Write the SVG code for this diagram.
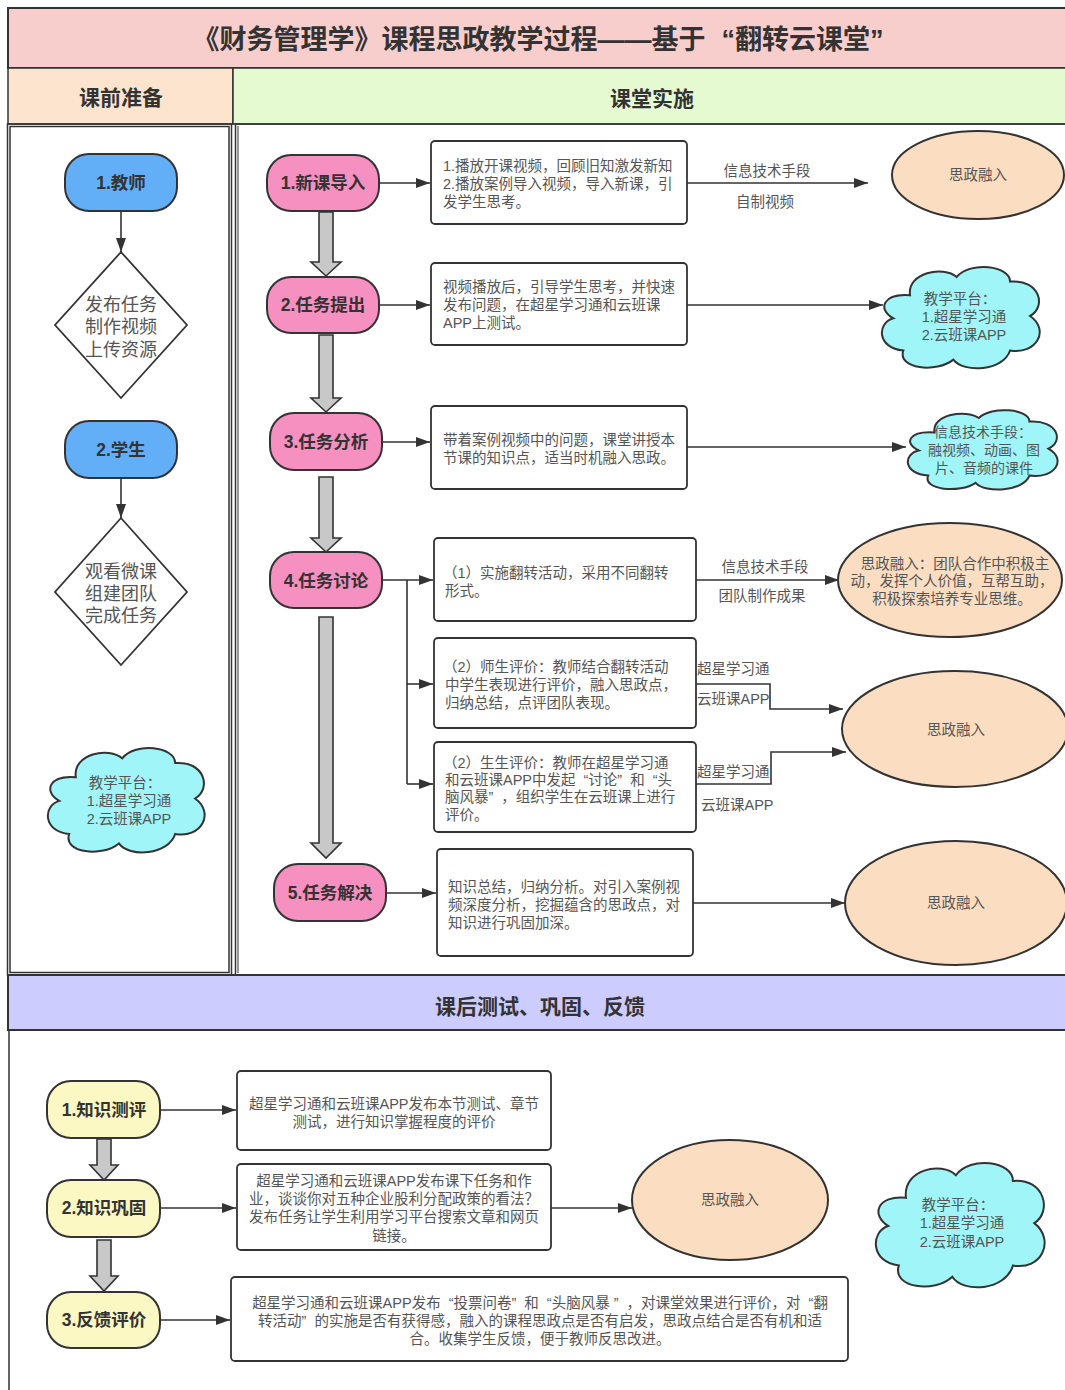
<svg xmlns="http://www.w3.org/2000/svg" width="1065" height="1390" viewBox="0 0 1065 1390">
<style>
text{font-family:"Liberation Sans","Noto Sans CJK SC",sans-serif;dominant-baseline:central}
.title{font-size:27px;font-weight:bold;fill:#333;text-anchor:middle}
.head{font-size:21px;font-weight:bold;fill:#333;text-anchor:middle}
.nl{font-size:17.5px;font-weight:bold;fill:#333;text-anchor:middle}
.body{font-size:14.5px;fill:#555}
.mid{text-anchor:middle}
.dia{font-size:18px;fill:#555;text-anchor:middle}
.frame{fill:none;stroke:#333;stroke-width:1.5}
.blue{fill:#62AEF7;stroke:#333;stroke-width:2}
.pink{fill:#F590C0;stroke:#333;stroke-width:2}
.yel{fill:#FBF8C3;stroke:#333;stroke-width:2}
.box{fill:#fff;stroke:#333;stroke-width:1.8}
.ell{fill:#FBDDC1;stroke:#333;stroke-width:2}
.cloud{fill:#9FF5F7;stroke:#333;stroke-width:2}
.dm{fill:#fff;stroke:#333;stroke-width:1.8}
.ln{fill:none;stroke:#333;stroke-width:1.6;marker-end:url(#ah)}
.pl{fill:none;stroke:#333;stroke-width:1.6}
.blk{fill:#C8C8C8;stroke:#333;stroke-width:1.6}
</style>
<defs>
<marker id="ah" markerUnits="userSpaceOnUse" markerWidth="14" markerHeight="10" refX="14" refY="5" orient="auto"><path d="M0,0 L14,5 L0,10 z" fill="#333"/></marker>
</defs>
<rect width="1065" height="1390" fill="#fff"/>

<g id="frames">
<rect x="8" y="8" width="1070" height="60" fill="#F8CECC" stroke="#333" stroke-width="2"/>
<text class="title" x="538" y="40">《财务管理学》课程思政教学过程——基于<tspan dx="16">“</tspan>翻转云课堂”</text>
<rect x="8" y="68" width="225" height="56" fill="#FCE4CF" stroke="#333" stroke-width="1.5"/>
<text class="head" x="121" y="97">课前准备</text>
<rect x="233" y="68" width="845" height="56" fill="#E6FAD2" stroke="#333" stroke-width="1.5"/>
<text class="head" x="652" y="98">课堂实施</text>
<rect class="frame" x="7.5" y="124" width="224" height="851"/>
<rect class="frame" x="10" y="126.5" width="219" height="846" stroke-width="1"/>
<rect class="frame" x="235.5" y="124" width="840" height="851"/>
<line x1="238" y1="126" x2="238" y2="973" stroke="#333" stroke-width="1"/>
<rect x="8" y="975" width="1070" height="55" fill="#CCCCFF" stroke="#333" stroke-width="2"/>
<text class="head" x="540" y="1006">课后测试、巩固、反馈</text>
<rect class="frame" x="9" y="1030" width="1070" height="370"/>
</g>

<g id="connectors">
<line class="ln" x1="121" y1="211" x2="121" y2="252"/>
<line class="ln" x1="121" y1="478" x2="121" y2="518"/>
<polygon class="blk" points="319,212 333,212 333,262 341,262 326,276 311,262 319,262"/>
<polygon class="blk" points="319,335 333,335 333,398 341,398 326,412 311,398 319,398"/>
<polygon class="blk" points="319,477 333,477 333,538 341,538 326,552 311,538 319,538"/>
<polygon class="blk" points="319,617 333,617 333,843 341,843 326,858 311,843 319,843"/>
<polygon class="blk" points="97,1139 111,1139 111,1165 118,1165 104,1180 90,1165 97,1165"/>
<polygon class="blk" points="97,1240 111,1240 111,1276 118,1276 104,1291 90,1276 97,1276"/>
<line class="ln" x1="379" y1="183" x2="430" y2="183"/>
<line class="ln" x1="379" y1="305" x2="430" y2="305"/>
<line class="ln" x1="382" y1="442" x2="430" y2="442"/>
<line class="ln" x1="382" y1="580" x2="433" y2="580"/>
<polyline class="pl" points="407,580 407,784"/>
<line class="ln" x1="407" y1="684" x2="433" y2="684"/>
<line class="ln" x1="407" y1="784" x2="433" y2="784"/>
<line class="ln" x1="386" y1="893" x2="436" y2="893"/>
<line class="ln" x1="687" y1="183" x2="868" y2="183"/>
<line class="ln" x1="687" y1="305" x2="883" y2="305"/>
<line class="ln" x1="687" y1="447" x2="906" y2="447"/>
<line class="ln" x1="696" y1="580" x2="839" y2="580"/>
<polyline class="ln" points="696,684 770,684 770,709 843,709"/>
<polyline class="ln" points="696,784 771,784 771,752 846,752"/>
<line class="ln" x1="693" y1="903" x2="845" y2="903"/>
<line class="ln" x1="160" y1="1110" x2="236" y2="1110"/>
<line class="ln" x1="160" y1="1208" x2="236" y2="1208"/>
<line class="ln" x1="160" y1="1320" x2="230" y2="1320"/>
<line class="ln" x1="551" y1="1208" x2="632" y2="1208"/>
<text class="body mid" x="767" y="171">信息技术手段</text>
<text class="body mid" x="765" y="202">自制视频</text>
<text class="body mid" x="765" y="567">信息技术手段</text>
<text class="body mid" x="762" y="596">团队制作成果</text>
<text class="body" x="697" y="669">超星学习通</text>
<text class="body" x="697" y="699">云班课APP</text>
<text class="body" x="697" y="772">超星学习通</text>
<text class="body" x="701" y="805">云班课APP</text>
</g>

<g id="n-teacher"><rect class="blue" x="65" y="154" width="112" height="57" rx="24"/><text class="nl" x="121" y="183">1.教师</text></g>
<g id="n-d1"><polygon class="dm" points="121,252 187,325 121,398 55,325"/>
<text class="dia" x="121" y="305"><tspan x="121" y="305">发布任务</tspan><tspan x="121" y="327">制作视频</tspan><tspan x="121" y="350">上传资源</tspan></text></g>
<g id="n-student"><rect class="blue" x="65" y="421" width="112" height="57" rx="24"/><text class="nl" x="121" y="450">2.学生</text></g>
<g id="n-d2"><polygon class="dm" points="121,518 187,592 121,665 55,592"/>
<text class="dia" x="121" y="572"><tspan x="121" y="572">观看微课</tspan><tspan x="121" y="594">组建团队</tspan><tspan x="121" y="616">完成任务</tspan></text></g>
<g id="n-cloud1"><path class="cloud" vector-effect="non-scaling-stroke" transform="translate(42.7,739.4) scale(1.656,1.182)" d="M20,32 C18,12 40,6 48,16 C56,2 80,6 80,20 C98,18 102,42 92,50 C104,62 96,84 80,80 C76,98 52,100 46,88 C36,100 12,96 16,80 C0,78 0,56 10,52 C0,44 4,30 20,32 Z"/>
<text class="body mid" x="127" y="783"><tspan x="125" y="783">教学平台：</tspan><tspan x="129" y="801">1.超星学习通</tspan><tspan x="129" y="819">2.云班课APP</tspan></text></g>

<g id="n-s1"><rect class="pink" x="267" y="155" width="112" height="56" rx="24"/><text class="nl" x="323" y="183">1.新课导入</text></g>
<g id="n-s2"><rect class="pink" x="267" y="277" width="112" height="56" rx="24"/><text class="nl" x="323" y="305">2.任务提出</text></g>
<g id="n-s3"><rect class="pink" x="270" y="413" width="112" height="57" rx="24"/><text class="nl" x="326" y="442">3.任务分析</text></g>
<g id="n-s4"><rect class="pink" x="270" y="552" width="112" height="56" rx="24"/><text class="nl" x="326" y="581">4.任务讨论</text></g>
<g id="n-s5"><rect class="pink" x="274" y="864" width="112" height="57" rx="24"/><text class="nl" x="330" y="893">5.任务解决</text></g>

<g id="n-b1"><rect class="box" x="431" y="141" width="256" height="83" rx="4"/>
<text class="body" x="443" y="166"><tspan x="443" y="166">1.播放开课视频，回顾旧知激发新知</tspan><tspan x="443" y="184">2.播放案例导入视频，导入新课，引</tspan><tspan x="443" y="202">发学生思考。</tspan></text></g>
<g id="n-b2"><rect class="box" x="431" y="263" width="256" height="82" rx="4"/>
<text class="body" x="443" y="287"><tspan x="443" y="287">视频播放后，引导学生思考，并快速</tspan><tspan x="443" y="305">发布问题，在超星学习通和云班课</tspan><tspan x="443" y="323">APP上测试。</tspan></text></g>
<g id="n-b3"><rect class="box" x="431" y="406" width="256" height="83" rx="4"/>
<text class="body" x="443" y="440"><tspan x="443" y="440">带着案例视频中的问题，课堂讲授本</tspan><tspan x="443" y="458">节课的知识点，适当时机融入思政。</tspan></text></g>
<g id="n-b4a"><rect class="box" x="434" y="538" width="262" height="83" rx="4"/>
<text class="body" x="443" y="573"><tspan x="443" y="573">（1）实施翻转活动，采用不同翻转</tspan><tspan x="445" y="591">形式。</tspan></text></g>
<g id="n-b4b"><rect class="box" x="434" y="638" width="262" height="90" rx="4"/>
<text class="body" x="443" y="667"><tspan x="443" y="667">（2）师生评价：教师结合翻转活动</tspan><tspan x="445" y="685">中学生表现进行评价，融入思政点，</tspan><tspan x="445" y="703">归纳总结，点评团队表现。</tspan></text></g>
<g id="n-b4c"><rect class="box" x="434" y="742" width="262" height="90" rx="4"/>
<text class="body" x="443" y="763"><tspan x="443" y="763">（2）生生评价：教师在超星学习通</tspan><tspan x="445" y="780">和云班课APP中发起<tspan dx="8">“</tspan>讨论”<tspan dx="8">和</tspan><tspan dx="8">“</tspan>头</tspan><tspan x="445" y="797">脑风暴”<tspan dx="8">，</tspan>组织学生在云班课上进行</tspan><tspan x="445" y="815">评价。</tspan></text></g>
<g id="n-b5"><rect class="box" x="437" y="849" width="256" height="107" rx="4"/>
<text class="body" x="448" y="887"><tspan x="448" y="887">知识总结，归纳分析。对引入案例视</tspan><tspan x="448" y="905">频深度分析，挖掘蕴含的思政点，对</tspan><tspan x="448" y="923">知识进行巩固加深。</tspan></text></g>

<g id="n-e1"><ellipse class="ell" cx="978" cy="175" rx="86" ry="44"/><text class="body mid" x="978" y="175">思政融入</text></g>
<g id="n-cloud2"><path class="cloud" vector-effect="non-scaling-stroke" transform="translate(876.7,258.6) scale(1.667,1.148)" d="M20,32 C18,12 40,6 48,16 C56,2 80,6 80,20 C98,18 102,42 92,50 C104,62 96,84 80,80 C76,98 52,100 46,88 C36,100 12,96 16,80 C0,78 0,56 10,52 C0,44 4,30 20,32 Z"/>
<text class="body mid" x="962" y="299"><tspan x="960" y="299">教学平台：</tspan><tspan x="964" y="317">1.超星学习通</tspan><tspan x="964" y="335">2.云班课APP</tspan></text></g>
<g id="n-cloud3"><path class="cloud" vector-effect="non-scaling-stroke" transform="translate(902.9,403.6) scale(1.582,0.9)" d="M20,32 C18,12 40,6 48,16 C56,2 80,6 80,20 C98,18 102,42 92,50 C104,62 96,84 80,80 C76,98 52,100 46,88 C36,100 12,96 16,80 C0,78 0,56 10,52 C0,44 4,30 20,32 Z"/>
<text class="body mid" x="984" y="432" style="font-size:14px"><tspan x="983" y="432">信息技术手段：</tspan><tspan x="984" y="450">融视频、动画、图</tspan><tspan x="984" y="468">片、音频的课件</tspan></text></g>
<g id="n-e2"><ellipse class="ell" cx="950" cy="580" rx="112" ry="57"/>
<text class="body mid" x="953" y="564"><tspan x="955" y="564">思政融入：团队合作中积极主</tspan><tspan x="952" y="581">动，发挥个人价值，互帮互助，</tspan><tspan x="952" y="599">积极探索培养专业思维。</tspan></text></g>
<g id="n-e3"><ellipse class="ell" cx="955" cy="729" rx="113" ry="58"/><text class="body mid" x="956" y="730">思政融入</text></g>
<g id="n-e4"><ellipse class="ell" cx="956" cy="903" rx="111" ry="62"/><text class="body mid" x="956" y="903">思政融入</text></g>

<g id="n-p1"><rect class="yel" x="47" y="1081" width="113" height="57" rx="24"/><text class="nl" x="104" y="1110">1.知识测评</text></g>
<g id="n-p2"><rect class="yel" x="47" y="1180" width="113" height="57" rx="24"/><text class="nl" x="104" y="1208">2.知识巩固</text></g>
<g id="n-p3"><rect class="yel" x="47" y="1292" width="113" height="56" rx="24"/><text class="nl" x="104" y="1320">3.反馈评价</text></g>
<g id="n-c1"><rect class="box" x="237" y="1071" width="314" height="79" rx="4"/>
<text class="body mid" x="394" y="1104"><tspan x="394" y="1104">超星学习通和云班课APP发布本节测试、章节</tspan><tspan x="394" y="1122">测试，进行知识掌握程度的评价</tspan></text></g>
<g id="n-c2"><rect class="box" x="237" y="1164" width="314" height="86" rx="4"/>
<text class="body mid" x="394" y="1181"><tspan x="394" y="1181">超星学习通和云班课APP发布课下任务和作</tspan><tspan x="394" y="1199">业，谈谈你对五种企业股利分配政策的看法？</tspan><tspan x="394" y="1217">发布任务让学生利用学习平台搜索文章和网页</tspan><tspan x="394" y="1236">链接。</tspan></text></g>
<g id="n-c3"><rect class="box" x="231" y="1277" width="617" height="84" rx="4"/>
<text class="body mid" x="540" y="1303"><tspan x="540" y="1303">超星学习通和云班课APP发布<tspan dx="8">“</tspan>投票问卷”<tspan dx="8">和</tspan><tspan dx="8">“</tspan>头脑风暴 ”<tspan dx="8">，</tspan>对课堂效果进行评价，对<tspan dx="8">“</tspan>翻</tspan><tspan x="540" y="1321">转活动”<tspan dx="8">的</tspan>实施是否有获得感，融入的课程思政点是否有启发，思政点结合是否有机和适</tspan><tspan x="540" y="1339">合。收集学生反馈，便于教师反思改进。</tspan></text></g>
<g id="n-e5"><ellipse class="ell" cx="730" cy="1200" rx="98" ry="60"/><text class="body mid" x="730" y="1200">思政融入</text></g>
<g id="n-cloud4"><path class="cloud" vector-effect="non-scaling-stroke" transform="translate(870.3,1152.7) scale(1.783,1.409)" d="M20,32 C18,12 40,6 48,16 C56,2 80,6 80,20 C98,18 102,42 92,50 C104,62 96,84 80,80 C76,98 52,100 46,88 C36,100 12,96 16,80 C0,78 0,56 10,52 C0,44 4,30 20,32 Z"/>
<text class="body mid" x="960" y="1205"><tspan x="958" y="1205">教学平台：</tspan><tspan x="962" y="1223">1.超星学习通</tspan><tspan x="962" y="1242">2.云班课APP</tspan></text></g>
</svg>
